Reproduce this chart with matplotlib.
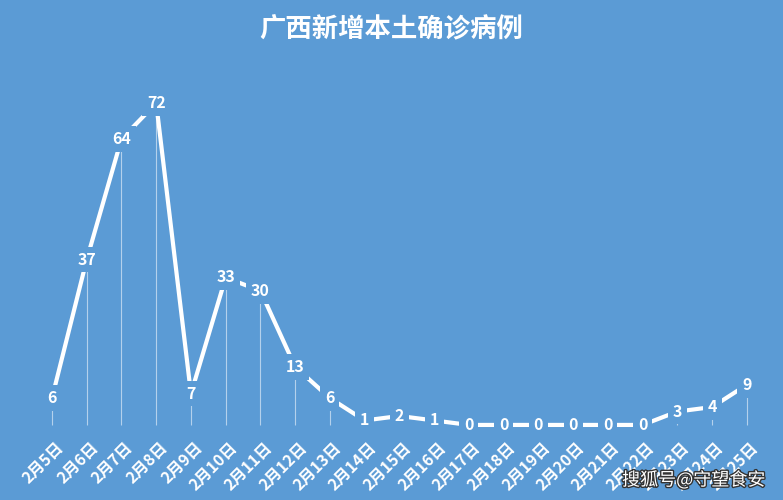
import matplotlib
matplotlib.use("Agg")
import matplotlib.pyplot as plt
import matplotlib.patheffects as pe

plt.rcParams['font.family'] = ['Noto Sans CJK SC', 'DejaVu Sans']

days = ["2月5日", "2月6日", "2月7日", "2月8日", "2月9日", "2月10日", "2月11日",
        "2月12日", "2月13日", "2月14日", "2月15日", "2月16日", "2月17日", "2月18日",
        "2月19日", "2月20日", "2月21日", "2月22日", "2月23日", "2月24日", "2月25日"]
cases = [6, 37, 64, 72, 7, 33, 30, 13, 6, 1, 2, 1, 0, 0, 0, 0, 0, 0, 3, 4, 9]

bg = "#5B9BD5"

fig = plt.figure(figsize=(7.83, 5), dpi=100, facecolor=bg)
ax = fig.add_axes([0, 0, 1, 1])
ax.set_facecolor(bg)
ax.set_xlim(-1.496, 21.04)
ax.set_ylim(-16.8, 95.1)
ax.axis("off")

xs = list(range(len(days)))

# drop lines
ax.vlines(xs, 0, cases, color="white", alpha=0.55, lw=0.8, zorder=1)
# main line
ax.plot(xs, cases, color="white", lw=3, solid_capstyle="butt", zorder=2)

# data labels sitting on the points, boxes cut the line
for x, v in zip(xs, cases):
    ax.text(x, v, str(v), color="white", fontsize=11.5, fontweight="bold",
            ha="center", va="center", zorder=3,
            bbox=dict(boxstyle="square,pad=0.3", fc=bg, ec="none"))

# category labels
for x, d in zip(xs, days):
    ax.text(x + 0.1, -3.2, d, color="white", fontsize=11.5, fontweight="bold",
            rotation=45, ha="right", va="top", rotation_mode="anchor")

fig.text(0.5, 0.94, "广西新增本土确诊病例", color="white", fontsize=19,
         fontweight="bold", ha="center", va="center")

fig.text(0.977, 0.04, "搜狐号@守望食安", color="white", fontsize=13,
         ha="right", va="center",
         path_effects=[pe.withStroke(linewidth=2, foreground="#333333")])

fig.savefig("out.png", dpi=100, facecolor=bg)
